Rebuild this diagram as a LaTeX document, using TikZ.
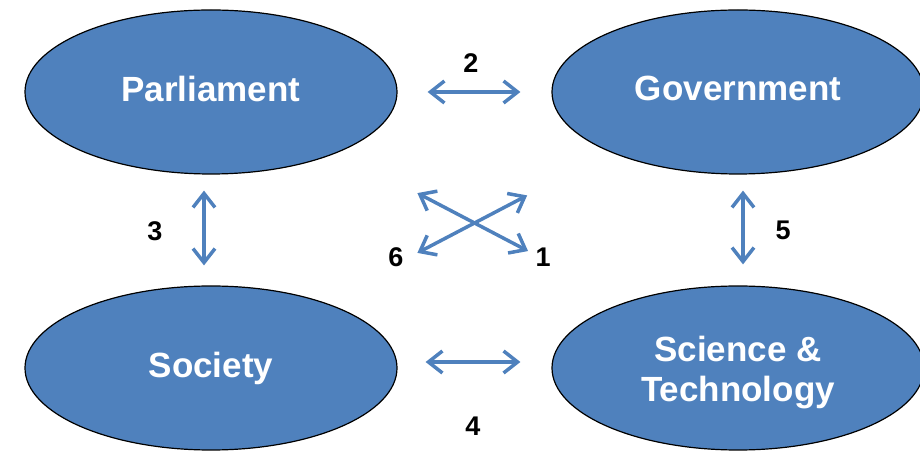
\documentclass[tikz,border=0pt]{standalone}
\usepackage{fontspec}
\setmainfont{Liberation Sans}
\usetikzlibrary{shapes.geometric,arrows.meta}
\definecolor{actorblue}{RGB}{79,129,189}

\begin{document}
\begin{tikzpicture}[x=1pt,y=1pt]
    \tikzstyle{actor}=[ellipse,draw=black,line width=1.2pt,fill=actorblue,minimum width=372pt,minimum height=164pt,inner sep=0pt,text=white,align=center,text depth=7pt,font=\fontsize{35}{40}\selectfont\bfseries]
    \tikzstyle{link}=[draw=actorblue,line width=3.5pt,{Straight Barb[length=14pt,width=22pt]}-{Straight Barb[length=14pt,width=22pt]}]
    \tikzstyle{num}=[font=\fontsize{27}{30}\selectfont\bfseries]

    \useasboundingbox (0,0) rectangle (920,452);

    % Draw the four actors
    \node[actor] (P) at (211,360) {Parliament};
    \node[actor] (G) at (738,360) {Government};
    \node[actor] (S) at (211,84) {Society};
    \node[actor] (T) at (738,84) {\rule{0pt}{34pt}Science \&\\Technology};

    % Links between them
    \path (P) edge[link, shorten <=30pt, shorten >=31pt] (G);
    \path ([yshift=6pt]S.east) edge[link, shorten <=28pt, shorten >=31pt] ([yshift=6pt]T.west);
    \path ([xshift=-7pt]P.south) edge[link, shorten <=16pt, shorten >=20pt] ([xshift=-7pt]S.north);
    \path ([xshift=5pt]G.south) edge[link, shorten <=16pt, shorten >=21pt] ([xshift=5pt]T.north);
    \path ([yshift=7pt]P.center) edge[link, shorten <=233pt, shorten >=237pt] ([yshift=7pt]T.center);
    \path ([yshift=7pt]G.center) edge[link, shorten <=238pt, shorten >=233pt] ([yshift=7pt]S.center);

    % Annotate the links
    \node[num] (n1) at (543,195) {1};
    \node[num] (n2) at (471,389) {2};
    \node[num] (n3) at (155,221) {3};
    \node[num] (n4) at (473,26) {4};
    \node[num] (n5) at (783,222) {5};
    \node[num] (n6) at (396,195) {6};
\end{tikzpicture}
\end{document}
